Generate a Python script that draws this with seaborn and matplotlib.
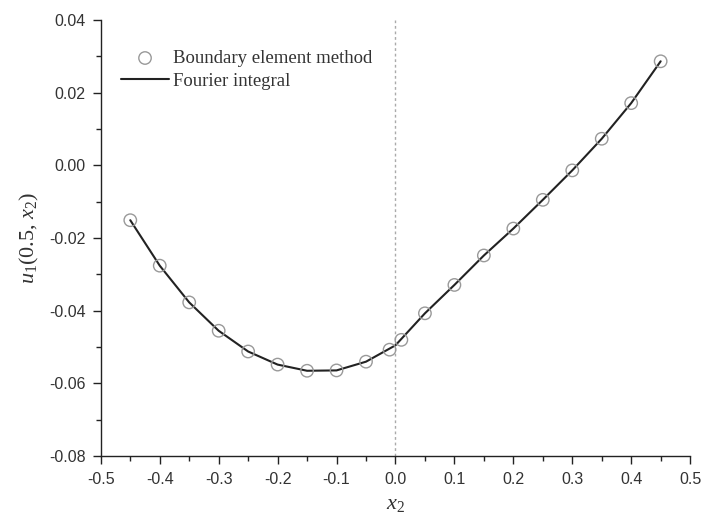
import numpy as np
import pandas as pd
import matplotlib
matplotlib.use("Agg")
import matplotlib.pyplot as plt
import seaborn as sns
from matplotlib.ticker import MultipleLocator, FormatStrFormatter

# Boundary element method samples
bem_x = [-0.45, -0.40, -0.35, -0.30, -0.25, -0.20, -0.15, -0.10, -0.05, -0.01,
         0.01, 0.05, 0.10, 0.15, 0.20, 0.25, 0.30, 0.35, 0.40, 0.45]
bem_y = [-0.0151, -0.0276, -0.0377, -0.0455, -0.0512, -0.0548, -0.0565, -0.0564,
         -0.0540, -0.0507, -0.0480, -0.0407, -0.0329, -0.0248, -0.0174, -0.0095,
         -0.0014, 0.0073, 0.0171, 0.0286]

# Fourier integral curve
fi_x = [-0.45, -0.40, -0.35, -0.30, -0.25, -0.20, -0.15, -0.10, -0.05, 0.0,
        0.05, 0.10, 0.15, 0.20, 0.25, 0.30, 0.35, 0.40, 0.45]
fi_y = [-0.0151, -0.0276, -0.0377, -0.0455, -0.0512, -0.0548, -0.0565, -0.0564,
        -0.0540, -0.0495, -0.0407, -0.0329, -0.0248, -0.0174, -0.0095, -0.0014,
        0.0073, 0.0171, 0.0286]

x_ticks = [-0.5, -0.4, -0.3, -0.2, -0.1, 0.0, 0.1, 0.2, 0.3, 0.4, 0.5]
y_ticks = [-0.08, -0.06, -0.04, -0.02, 0.00, 0.02, 0.04]

sns.set_style("ticks")
plt.rcParams['font.family'] = ['Liberation Sans', 'DejaVu Sans']
plt.rcParams['mathtext.fontset'] = 'custom'
plt.rcParams['mathtext.rm'] = 'Liberation Serif'
plt.rcParams['mathtext.it'] = 'Liberation Serif:italic'

fig = plt.figure(figsize=(7.10, 5.22), dpi=100)
ax = fig.add_axes([0.142, 0.126, 0.830, 0.836])

bem_df = pd.DataFrame({"x": bem_x, "y": bem_y})
fi_df = pd.DataFrame({"x": fi_x, "y": fi_y})

ax.axvline(0.0, color="#aaaaaa", lw=1.0, ls=(0, (2, 2)), zorder=1)

sns.lineplot(data=fi_df, x="x", y="y", ax=ax, color="#222222", lw=1.5,
             label="Fourier integral", zorder=3, sort=True)
sns.scatterplot(data=bem_df, x="x", y="y", ax=ax, marker="o", s=80,
                facecolor="none", edgecolor="#999999", linewidth=1.0,
                label="Boundary element method", zorder=4)

ax.set_xlim(-0.5, 0.5)
ax.set_ylim(-0.08, 0.04)
ax.set_xticks(x_ticks)
ax.set_yticks(y_ticks)
ax.xaxis.set_minor_locator(MultipleLocator(0.05))
ax.yaxis.set_minor_locator(MultipleLocator(0.01))
ax.xaxis.set_major_formatter(FormatStrFormatter('%.1f'))
ax.yaxis.set_major_formatter(FormatStrFormatter('%.2f'))
ax.tick_params(which='major', direction='out', length=6, width=1.0, pad=5,
               labelsize=11.5, colors='#222222', labelcolor='#333333')
ax.tick_params(which='minor', direction='out', length=3.5, width=1.0, colors='#222222')

for side in ['top', 'right']:
    ax.spines[side].set_visible(False)
for side in ['left', 'bottom']:
    ax.spines[side].set_linewidth(1.0)
    ax.spines[side].set_color('#222222')

ax.set_xlabel('$x_2$', fontsize=16, color='#333333', labelpad=6,
              fontfamily='Liberation Serif')
ax.set_ylabel('$u_1$(0.5, $x_2$)', fontsize=16, color='#333333', labelpad=6,
              fontfamily='Liberation Serif')

handles, labels = ax.get_legend_handles_labels()
order = [labels.index("Boundary element method"), labels.index("Fourier integral")]
leg = ax.legend([handles[i] for i in order], [labels[i] for i in order],
                loc='upper left', bbox_to_anchor=(0.005, 0.97), frameon=False,
                prop={'family': 'Liberation Serif', 'size': 13.5},
                handlelength=2.6, handletextpad=0.2, labelspacing=0.3)
for t in leg.get_texts():
    t.set_color('#333333')

fig.savefig("out.png", dpi=100, facecolor="white")
